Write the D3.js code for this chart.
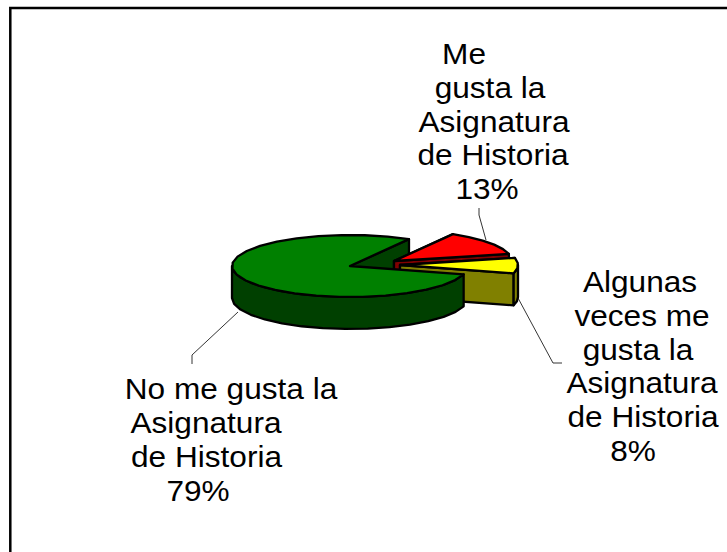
<!DOCTYPE html>
<html><head><meta charset="utf-8">
<script src="https://cdn.jsdelivr.net/npm/d3@7"></script>
<style>html,body{margin:0;padding:0;background:#fff}svg{display:block}text{font-family:"Liberation Sans",Arial,sans-serif;fill:#000}</style>
</head><body><svg id="c" width="727" height="552"></svg>
<script>
const categories = ["Me gusta la Asignatura de Historia","Algunas veces me gusta la Asignatura de Historia","No me gusta la Asignatura de Historia"];
const values = [13, 8, 79];
const topColors = ["#ff0000","#ffff00","#008000"];
const sideColors = ["#800000","#808000","#004000"];
const centers = [[394,261],[400,265],[350,266]];
const labelLines = [
  [["Me",464,64],["gusta la",490,98],["Asignatura",494,132],["de Historia",493,165],["13%",487,199]],
  [["Algunas",640,292],["veces me",642,326],["gusta la",638,360],["Asignatura",642,393],["de Historia",643,427],["8%",633,461]],
  [["No me gusta la",231,399],["Asignatura",206,433],["de Historia",206.5,467],["79%",198,501]]
];
const leaders = [
  [[486,240],[479,215],[479,208]],
  [[518,298],[553,363],[562,363]],
  [[238,312],[192,355],[192,364]]
];
const rx=118, ry=31, depth=32, stretch=1.09;
const svg=d3.select("#c");
svg.append("path").attr("d","M10.3,552V8H727").attr("fill","none").attr("stroke","#000").attr("stroke-width",2.5);
const start=Math.PI/6;
const pie=d3.pie().value(d=>d).sort(null).startAngle(start).endAngle(start+2*Math.PI);
const arcs=pie(values);
const pt=(c,a,dz=0)=>[c[0]+rx*Math.sin(a),c[1]-ry*Math.cos(a)+dz];
const line=d3.line();
function arcPts(c,a0,a1,dz){const n=Math.max(2,Math.ceil(Math.abs(a1-a0)/0.2));return d3.range(n+1).map(i=>pt(c,a0+(a1-a0)*i/n,dz));}
const layer=()=>svg.append("g").attr("stroke","#000").attr("stroke-width",2.3).attr("stroke-linejoin","round");
function face(g,i,a){
  const c=centers[i],p=pt(c,a);
  g.append("path").attr("fill",sideColors[i]).attr("d",line([c,p,[p[0],p[1]+depth],[c[0],c[1]+depth]])+"Z");
}
// the large slice's back cut face lies behind the two exploded slices
face(layer(),2,arcs[2].endAngle);
function drawSlice(i){
  const d=arcs[i],c=centers[i],a0=d.startAngle,a1=d.endAngle;
  const g=layer();
  if(i<2){face(g,i,a0);face(g,i,a1);}
  const lo=Math.max(a0,Math.PI/2), hi=Math.min(a1,Math.PI*1.5);
  if(hi>lo){g.append("path").attr("fill",sideColors[i]).attr("d",line(arcPts(c,lo,hi,0).concat(arcPts(c,hi,lo,depth)))+"Z");}
  g.append("path").attr("fill",topColors[i]).attr("d",line([c].concat(arcPts(c,a0,a1,0)))+"Z");
}
[0,1,2].forEach(drawSlice);
leaders.forEach(l=>svg.append("path").attr("d",line(l)).attr("fill","none").attr("stroke","#000").attr("stroke-width",0.8));
labelLines.forEach(ls=>ls.forEach(([t,x,y])=>svg.append("text").attr("transform",`translate(${x},${y}) scale(${stretch},1)`).attr("text-anchor","middle").attr("font-size",29).text(t)));
</script></body></html>
